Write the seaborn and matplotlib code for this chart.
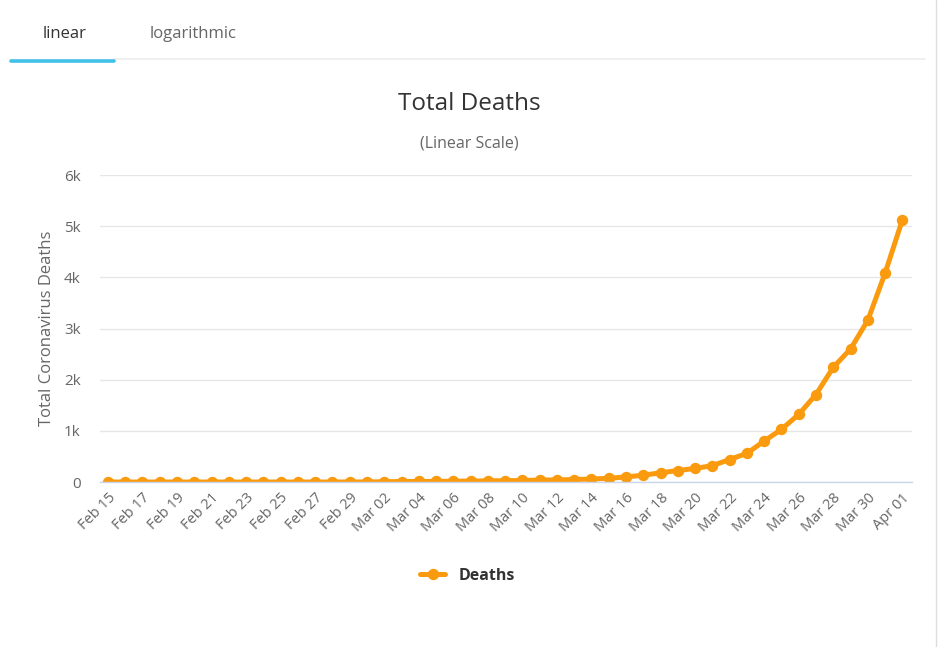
import matplotlib
matplotlib.use("Agg")
import matplotlib.pyplot as plt
import matplotlib.ticker as mticker
from matplotlib.lines import Line2D
import seaborn as sns
import pandas as pd

# data
dates = (["Feb %02d" % d for d in range(15, 30)]
         + ["Mar %02d" % d for d in range(1, 32)]
         + ["Apr 01"])
deaths = [0, 0, 0, 0, 0, 0, 0, 0, 0, 0, 0, 0, 0, 0, 1,
          1, 6, 9, 11, 12, 15, 19, 22, 26, 30, 38, 41, 48, 58, 73, 99,
          133, 180, 225, 265, 320, 440, 560, 800, 1030, 1320, 1710, 2240,
          2600, 3160, 4080, 5120]
yticks = [0, 1000, 2000, 3000, 4000, 5000, 6000]

df = pd.DataFrame({"day": range(len(dates)), "date": dates, "deaths": deaths})

sns.set_style("white")
plt.rcParams["font.family"] = ["Open Sans", "DejaVu Sans"]

orange = "#FA9A0E"
fig = plt.figure(figsize=(9.4, 6.47), dpi=100)
ax = fig.add_axes([0.1064, 0.255, 0.8638, 0.4745])

sns.lineplot(data=df, x="day", y="deaths", ax=ax, color=orange, linewidth=3.6,
             marker="o", markersize=8.2, markeredgewidth=0, legend=False)

ax.set_xlim(-0.46, len(dates) - 1 + 0.56)
ax.set_ylim(0, 6000)
ax.set_yticks(yticks)
ax.yaxis.set_major_formatter(mticker.FuncFormatter(
    lambda v, p: "0" if v == 0 else "%dk" % (v / 1000)))
ax.grid(axis="y", color="#e6e6e6", linewidth=1)
ax.set_axisbelow(True)
for s in ["top", "right", "left"]:
    ax.spines[s].set_visible(False)
ax.spines["bottom"].set_color("#ccd6eb")
ax.spines["bottom"].set_linewidth(1)

ax.set_xticks(df["day"][::2])
ax.set_xticklabels(df["date"][::2], rotation=45, ha="right", va="top",
                   rotation_mode="anchor", fontsize=10.5, color="#666666")
ax.tick_params(axis="x", length=0, pad=6)
ax.tick_params(axis="y", length=0, pad=14, labelsize=11, labelcolor="#666666")
ax.set_xlabel("")
ax.set_ylabel("Total Coronavirus Deaths", fontsize=12, color="#666666", labelpad=6)

fig.text(0.4989, 0.84, "Total Deaths", ha="center", va="center",
         fontsize=17.5, color="#333333")
fig.text(0.4989, 0.778, "(Linear Scale)", ha="center", va="center",
         fontsize=11.5, color="#666666")

# tabs at the top
fig.text(0.069, 0.947, "linear", ha="center", va="center", fontsize=12, color="#333333")
fig.text(0.205, 0.947, "logarithmic", ha="center", va="center", fontsize=12, color="#666666")
fig.add_artist(Line2D([0.121, 0.984], [0.909, 0.909], color="#eeeeee", linewidth=1.2))
fig.add_artist(Line2D([0.012, 0.121], [0.906, 0.906], color="#41c0e8", linewidth=2.6))
fig.add_artist(Line2D([0.996, 0.996], [0.0, 1.0], color="#dddddd", linewidth=1))

handle = Line2D([], [], color=orange, linewidth=3.6, marker="o", markersize=8.2,
                markeredgewidth=0)
leg = fig.legend([handle], ["Deaths"], loc="center", bbox_to_anchor=(0.497, 0.11),
                 frameon=False, handlelength=1.6, prop={"size": 11.5, "weight": "bold"})
for t in leg.get_texts():
    t.set_color("#333333")

fig.savefig("out.png", dpi=100, facecolor="white")
